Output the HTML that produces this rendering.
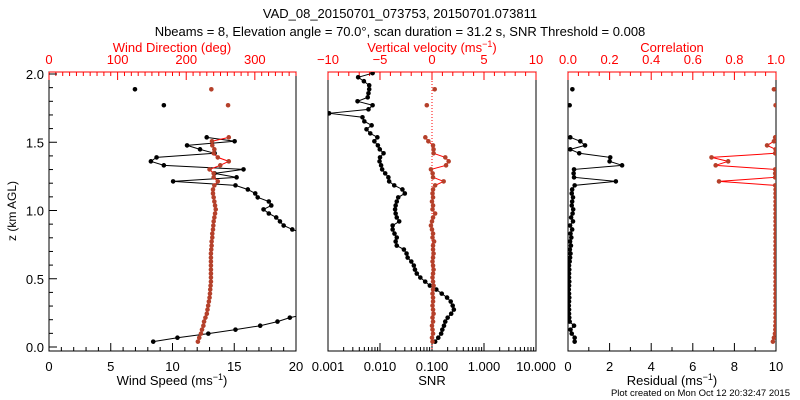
<!DOCTYPE html>
<html><head><meta charset="utf-8"><style>
html,body{margin:0;padding:0;background:#fff;}
svg{display:block;font-family:"Liberation Sans",sans-serif;}
</style></head><body>
<svg id="chart" width="800" height="400" viewBox="0 0 800 400" xmlns="http://www.w3.org/2000/svg">
<rect width="800" height="400" fill="#fff"/>
<text x="400" y="18" font-size="13" text-anchor="middle">VAD_08_20150701_073753, 20150701.073811</text>
<text x="400" y="36" font-size="13" text-anchor="middle">Nbeams = 8, Elevation angle = 70.0°, scan duration = 31.2 s, SNR Threshold = 0.008</text>
<text x="172" y="52" font-size="13" fill="#f00" text-anchor="middle">Wind Direction (deg)</text>
<text x="432" y="52" font-size="13" fill="#f00" text-anchor="middle">Vertical velocity (ms<tspan dy="-5" font-size="9">−1</tspan><tspan dy="5">)</tspan></text>
<text x="672" y="52" font-size="13" fill="#f00" text-anchor="middle">Correlation</text>
<text x="172" y="385" font-size="13" text-anchor="middle">Wind Speed (ms<tspan dy="-5" font-size="9">−1</tspan><tspan dy="5">)</tspan></text>
<text x="432" y="385" font-size="13" text-anchor="middle">SNR</text>
<text x="672" y="385" font-size="13" text-anchor="middle">Residual (ms<tspan dy="-5" font-size="9">−1</tspan><tspan dy="5">)</tspan></text>
<text transform="translate(16,211) rotate(-90)" font-size="12" text-anchor="middle">z (km AGL)</text>
<text x="790" y="396" font-size="9.5" text-anchor="end">Plot created on Mon Oct 12 20:32:47 2015</text>
<defs>
<clipPath id="c1"><rect x="49" y="72" width="247" height="279"/></clipPath>
<clipPath id="c2"><rect x="328" y="72" width="208" height="279"/></clipPath>
<clipPath id="c3"><rect x="568" y="72" width="208" height="279"/></clipPath>
</defs>
</svg>
<script>
const heights=[0.039,0.068,0.098,0.127,0.156,0.186,0.215,0.244,0.274,0.303,0.333,0.362,0.391,0.421,0.450,0.479,0.509,0.538,0.567,0.597,0.626,0.655,0.685,0.714,0.743,0.773,0.802,0.831,0.861,0.890,0.920,0.949,0.978,1.008,1.037,1.066,1.096,1.125,1.154,1.184,1.213,1.243,1.272,1.301,1.331,1.360,1.389,1.419,1.448,1.477,1.507,1.536,1.565,1.595,1.624,1.653,1.683,1.712,1.741,1.771,1.800,1.829,1.859,1.888,1.917,1.947,1.976,2.006];
const N=null;
const windSpeed=[8.44,10.4,12.9,15.1,17.1,18.5,19.5,21,22,23,24,25,26,27,27,28,28,28,27,27,26,26,25,24,23,22,21,20.6,19.7,19.0,18.7,18.4,17.8,17.37,18.0,17.8,16.9,16.7,16.1,15.1,10.05,15.19,13.4,15.75,9.3,8.25,8.71,13.41,12.23,11.18,15.03,12.77,N,N,N,N,N,N,N,9.3,N,N,N,6.96];
const windDir=[217,219,221.5,223,225,226,228,230,231,232,233,234,234.6,235,235.5,236,236,236,236,236,236,236,236,236.5,237,237,238,238,239,239.5,240,241,242,243,242,241,240,239,239,241,246,240,240,234,249.6,262,246,240,241,238,237.6,262,N,N,N,N,N,N,N,261,N,N,N,236.6];
const snr=[0.115,0.132,0.150,0.158,0.170,0.180,0.200,0.234,0.263,0.250,0.229,0.195,0.154,0.121,0.091,0.074,0.0596,0.051,0.047,0.0447,0.040,0.034,0.0324,0.0288,0.021,0.020,0.021,0.019,0.0175,0.0175,0.0234,0.021,0.020,0.0195,0.020,0.021,0.0224,0.030,0.027,0.0188,0.0150,0.0145,0.0126,0.011,0.0105,0.0098,0.0100,0.0117,0.0099,0.0091,0.0078,0.0089,0.0065,0.0055,0.0069,0.0050,0.0046,0.00105,0.006,0.0072,0.0037,0.0058,0.006,0.0062,0.0062,0.0049,0.0038,0.0072];
const vertVel=[0.05,0.0,0.1,0.05,0.0,0.1,0.05,0.15,0.1,0.05,0.1,0.1,0.05,0.1,0.15,0.1,0.05,0.1,0.15,0.1,0.05,0.1,0.15,0.1,0.1,0.2,0.05,0.1,0.0,-0.1,0.0,0.1,0.3,0.05,0.1,0.0,0.1,0.05,0.1,0.3,1.12,0.1,0.06,-0.1,1.35,1.6,1.28,0.15,0.15,0.1,-0.35,-0.64,N,N,N,N,N,N,N,-0.5,N,N,N,0.26];
const residual=[0.32,0.32,0.18,0.12,0.29,0.08,0.06,0.05,0.05,0.04,0.05,0.06,0.05,0.04,0.05,0.06,0.05,0.05,0.06,0.05,0.08,0.1,0.12,0.09,0.14,0.1,0.16,0.12,0.2,0.1,0.24,0.15,0.22,0.25,0.18,0.2,0.24,0.18,0.2,0.32,2.3,0.29,0.27,0.29,2.6,2.0,2.03,0.54,0.11,0.82,0.59,0.11,N,N,N,N,N,N,N,0.08,N,N,N,0.21];
const correlation=[0.985,0.99,0.995,0.997,0.997,0.998,0.998,0.998,0.998,0.998,0.998,0.998,0.998,0.998,0.998,0.998,0.998,0.998,0.998,0.998,0.998,0.998,0.998,0.998,0.998,0.998,0.998,0.998,0.998,0.998,0.998,0.998,0.998,0.998,0.998,0.998,0.998,0.998,0.998,0.996,0.726,0.996,0.996,0.996,0.71,0.77,0.69,0.996,0.998,0.957,0.99,0.996,N,N,N,N,N,N,N,0.998,N,N,N,0.99];
const speedTicks=[0,5,10,15,20], dirTicks=[0,100,200,300], snrTicks=["0.001","0.010","0.100","1.000","10.000"], vvTicks=[-10,-5,0,5,10], resTicks=[0,2,4,6,8,10], corrTicks=["0.0","0.2","0.4","0.6","0.8","1.0"], zTicks=["0.0","0.5","1.0","1.5","2.0"];

const NS='http://www.w3.org/2000/svg', svg=document.getElementById('chart');
const yz=z=>347-z*136.5;
const xs1=v=>49+v/20*247, xd1=d=>49+d/360*247;
const xs2=s=>328+(Math.log10(s)+3)*52, xv2=v=>432+v*10.4;
const xr3=r=>568+r*20.8, xc3=c=>568+c*208;
const RED='#f00', MRK='#b5402a';
function mk(tag,at,parent){const e=document.createElementNS(NS,tag);for(const k in at)e.setAttribute(k,at[k]);(parent||svg).appendChild(e);return e;}
function txt(x,y,s,col,anchor){const e=mk('text',{x:x,y:y,'font-size':13,fill:col,'text-anchor':anchor||'middle'});e.textContent=s;return e;}
function box(x0,x1,name){const r=mk('rect',{x:x0,y:72,width:x1-x0,height:279,fill:'none',stroke:'#000'});

}
function tick(x,y1,y2,col,name){const l=mk('line',{x1:x,x2:x,y1:y1,y2:y2,stroke:col});

}
function series(vals,xf,clip,lineCol,mCol,name){
 const g=mk('g',{'clip-path':'url(#'+clip+')'});
 
 
 let seg=[];const segs=[];
 vals.forEach((v,i)=>{if(v===null){if(seg.length)segs.push(seg);seg=[];}else seg.push([xf(v),yz(heights[i])]);});
 if(seg.length)segs.push(seg);
 segs.forEach(s=>{if(s.length>1){const p=mk('polyline',{points:s.map(q=>q.join(',')).join(' '),fill:'none',stroke:lineCol,'stroke-width':1},g);
 
 }});
 vals.forEach((v,i)=>{if(v===null)return;const c=mk('circle',{cx:xf(v),cy:yz(heights[i]),r:2.3,fill:mCol},g);
 
 });
}
// panel boxes
box(49,296,'wind-panel-frame');box(328,536,'snr-panel-frame');box(568,776,'residual-panel-frame');
// panel 1 ticks
for(let v=0;v<=20;v++){tick(xs1(v),351,351-(v%5?4:8),'#000','wind-speed-tick');}
speedTicks.forEach(v=>{const t=txt(xs1(v),371,String(v),'#000');

});
for(let d=0;d<=360;d+=10){if(xd1(d)>296.5)break;tick(xd1(d),72,72+(d%100?4:8),RED,'wind-direction-tick');}
mk('line',{x1:49,x2:296,y1:72,y2:72,stroke:RED});
dirTicks.forEach(v=>{const t=txt(xd1(v),64,String(v),RED);

});
for(let k=0;k<=20;k++){const z=k/10;const y=yz(z);const l=mk('line',{x1:49,x2:49+(k%5?4:8),y1:y,y2:y,stroke:'#000'});

}
zTicks.forEach(s=>{const t=txt(44,yz(parseFloat(s))+5,s,'#000','end');

});
// panel 2 ticks
for(let d=-3;d<1;d++){for(let m=1;m<10;m++){tick(xs2(m*Math.pow(10,d)),351,351-(m===1?8:4),'#000','snr-tick');}}
tick(xs2(10),351,343,'#000','snr-tick');
snrTicks.forEach(s=>{const t=txt(xs2(parseFloat(s)),371,s,'#000');

});
mk('line',{x1:328,x2:536,y1:72,y2:72,stroke:RED});
for(let v=-10;v<=10;v++){tick(xv2(v),72,72+(v%5?4:8),RED,'vertical-velocity-tick');}
vvTicks.forEach(v=>{const t=txt(xv2(v),64,v<0?'−'+Math.abs(v):String(v),RED);

});
const zl=mk('line',{x1:xv2(0),x2:xv2(0),y1:72,y2:351,stroke:RED,'stroke-dasharray':'1,2'});


// panel 3 ticks
for(let v=0;v<=10;v++){tick(xr3(v),351,351-(v%2?4:8),'#000','residual-tick');}
resTicks.forEach(v=>{const t=txt(xr3(v),371,String(v),'#000');

});
mk('line',{x1:568,x2:776,y1:72,y2:72,stroke:RED});
for(let k=0;k<=20;k++){tick(xc3(k/20),72,72+(k%4?4:8),RED,'correlation-tick');}
corrTicks.forEach(s=>{const t=txt(xc3(parseFloat(s)),64,s,RED);

});
// series
series(windSpeed,xs1,'c1','#000','#000','wind-speed-series');
series(windDir,xd1,'c1',RED,MRK,'wind-direction-series');
series(snr,xs2,'c2','#000','#000','snr-series');
series(vertVel,xv2,'c2',RED,MRK,'vertical-velocity-series');
series(residual,xr3,'c3','#000','#000','residual-series');
series(correlation,xc3,'c3',RED,MRK,'correlation-series');
</script>
</body></html>
